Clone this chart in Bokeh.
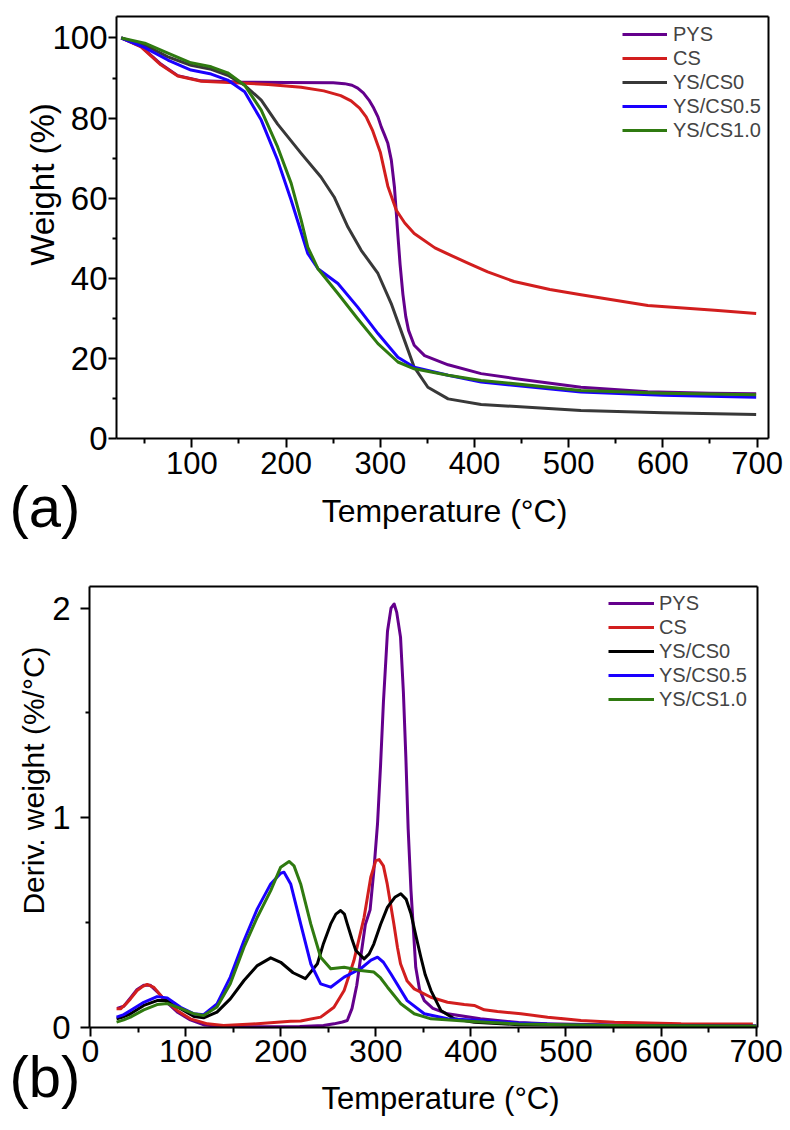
import math
from bokeh.plotting import figure
from bokeh.models import Range1d, FixedTicker, Legend, LegendItem, Label, LinearAxis
from bokeh.layouts import column
from bokeh.embed import file_html
from bokeh.resources import INLINE

FONT = "Liberation Sans"

names = ["PYS", "CS", "YS/CS0", "YS/CS0.5", "YS/CS1.0"]
colors_a = ["#64008c", "#d21e1e", "#383838", "#1a00ff", "#2f7a10"]
colors_b = ["#64008c", "#d21e1e", "#000000", "#1a00ff", "#2f7a10"]

# ---------------- (a) TGA: weight (%) vs temperature (°C) ----------------
pys_a_t = [25, 46, 67, 85, 110, 150, 200, 250, 262, 270, 276, 282, 288, 293, 297.5, 301, 304.5, 308, 311.7, 315, 318.6, 321, 324, 327, 330, 336, 347, 372, 407, 442, 513, 584, 650, 699]
pys_a_w = [100, 97.9, 93.5, 90.6, 89.3, 89.0, 88.9, 88.8, 88.6, 88.2, 87.5, 86.3, 84.5, 82.5, 80.3, 77.8, 75.8, 73.7, 69.5, 62.8, 51.0, 43.5, 36.0, 30.5, 27.0, 23.3, 20.7, 18.4, 16.2, 15.0, 12.8, 11.7, 11.3, 11.2]

cs_a_t = [25, 46, 67, 85, 110, 145, 181, 216, 240, 258, 269, 278, 285, 292, 300, 308, 317, 326, 336, 358, 375, 393, 414, 442, 480, 513, 584, 655, 699]
cs_a_w = [100, 97.8, 93.3, 90.5, 89.2, 88.8, 88.4, 87.7, 86.8, 85.6, 84.3, 82.5, 80.3, 76.8, 71.5, 63.0, 57.0, 53.8, 51.2, 47.6, 45.7, 43.8, 41.6, 39.2, 37.2, 35.9, 33.2, 32.0, 31.2]

ys0_a_t = [25, 50, 74.5, 99, 120.5, 138, 156, 173.6, 191, 216, 237, 251, 265.6, 279.7, 297.5, 311.6, 325.7, 336, 350.5, 372, 407, 513, 600, 699]
ys0_a_w = [100, 98.2, 95.3, 93.2, 92.2, 90.7, 88.2, 84.5, 78.5, 71.2, 65.3, 60.3, 52.8, 47.0, 41.2, 33.7, 24.5, 17.8, 12.8, 9.9, 8.5, 7.0, 6.4, 6.0]

ys05_a_t = [25, 50, 74.5, 99, 120.5, 138, 156, 173.6, 191, 205.4, 216, 223, 233.8, 255, 276, 297.5, 318.7, 336, 372, 407, 513, 600, 699]
ys05_a_w = [100, 97.6, 94.5, 92.0, 91.0, 89.5, 86.6, 79.5, 69.5, 59.5, 51.5, 46.2, 42.4, 38.7, 32.8, 26.2, 20.3, 17.8, 15.8, 14.1, 11.6, 10.8, 10.3]

ys10_a_t = [25, 50, 74.5, 99, 120.5, 138, 156, 173.6, 191, 205.4, 216, 223, 233.8, 255, 276, 297.5, 318.7, 336, 372, 407, 513, 600, 699]
ys10_a_w = [100, 98.7, 96.2, 93.8, 92.8, 91.3, 88.2, 82.0, 72.8, 63.7, 54.5, 47.8, 42.4, 36.2, 29.9, 23.7, 19.1, 17.4, 15.8, 14.5, 12.0, 11.3, 10.9]

# ---------------- (b) DTG: deriv. weight (%/°C) vs temperature (°C) ----------------
pys_b_t = [28, 35, 42, 49, 56, 63, 70, 80, 92, 105, 120, 140, 180, 220, 245, 256, 265, 270, 275, 280, 284, 289, 294, 298, 301.8, 305, 308, 312.3, 316, 319.3, 322, 326, 329, 331.6, 334, 337, 342, 346, 351, 360, 375.5, 410, 450, 480, 550, 700]
pys_b_d = [0.09, 0.1, 0.14, 0.18, 0.2, 0.2, 0.17, 0.12, 0.07, 0.035, 0.01, 0.003, 0.002, 0.003, 0.008, 0.016, 0.025, 0.032, 0.09, 0.2, 0.33, 0.49, 0.56, 0.75, 0.97, 1.25, 1.55, 1.89, 2.0, 2.02, 1.98, 1.862, 1.6, 1.289, 0.95, 0.652, 0.286, 0.18, 0.127, 0.09, 0.064, 0.04, 0.022, 0.016, 0.01, 0.006]

cs_b_t = [27.4, 31.6, 37, 42, 49, 55, 59.6, 66.7, 77, 91, 105, 123, 140, 170, 210.5, 221, 242, 256, 266.7, 277, 287.7, 294.7, 300, 303.5, 308, 312, 319, 322.8, 326, 333, 340.4, 357.9, 375.4, 393, 403.5, 414, 428, 452.6, 480.7, 515.8, 551, 621, 696.5]
cs_b_d = [0.088, 0.088, 0.11, 0.135, 0.175, 0.195, 0.204, 0.19, 0.135, 0.08, 0.04, 0.016, 0.008, 0.015, 0.028, 0.03, 0.048, 0.095, 0.175, 0.318, 0.525, 0.716, 0.795, 0.80, 0.77, 0.684, 0.493, 0.38, 0.303, 0.22, 0.183, 0.143, 0.119, 0.108, 0.104, 0.083, 0.075, 0.064, 0.048, 0.032, 0.024, 0.016, 0.015]

ys0_b_t = [27.4, 35, 42, 56, 70, 80.7, 94.7, 108.8, 119, 133, 147, 161.4, 175.4, 189.5, 200, 213, 226, 238.6, 245, 252.6, 258, 263, 267, 270, 275, 279, 287.7, 293, 298, 305, 312.3, 320, 326.3, 332, 337, 342, 347.4, 352, 358, 368.4, 382.5, 403.5, 450, 550, 700]
ys0_b_d = [0.04, 0.05, 0.064, 0.104, 0.127, 0.127, 0.088, 0.051, 0.045, 0.072, 0.135, 0.223, 0.294, 0.331, 0.31, 0.26, 0.232, 0.303, 0.40, 0.493, 0.54, 0.557, 0.54, 0.493, 0.42, 0.366, 0.326, 0.35, 0.398, 0.49, 0.573, 0.62, 0.637, 0.61, 0.541, 0.44, 0.334, 0.25, 0.175, 0.08, 0.04, 0.024, 0.012, 0.008, 0.005]

ys05_b_t = [27.4, 35, 42, 56, 70, 80.7, 94.7, 108.8, 119, 133, 147, 161.4, 175.4, 189.5, 200, 203.5, 210.5, 221, 231.6, 242, 252.6, 266.7, 284, 295, 301.8, 308, 315.8, 333, 351, 375.5, 410.5, 450, 500, 600, 700]
ys05_b_d = [0.048, 0.06, 0.08, 0.119, 0.146, 0.14, 0.095, 0.064, 0.06, 0.111, 0.239, 0.414, 0.565, 0.684, 0.735, 0.74, 0.684, 0.493, 0.303, 0.207, 0.191, 0.239, 0.279, 0.32, 0.334, 0.31, 0.255, 0.127, 0.064, 0.04, 0.032, 0.02, 0.012, 0.006, 0.004]

ys10_b_t = [27.4, 35, 42, 56, 70, 80.7, 94.7, 108.8, 119, 133, 147, 161.4, 175.4, 189.5, 200, 208.8, 214, 221, 231.6, 242, 252.6, 266.7, 284, 298, 305, 312.3, 326.3, 340.4, 358, 393, 450, 550, 700]
ys10_b_d = [0.024, 0.035, 0.048, 0.083, 0.108, 0.113, 0.09, 0.064, 0.056, 0.096, 0.207, 0.382, 0.525, 0.652, 0.764, 0.791, 0.77, 0.684, 0.493, 0.334, 0.279, 0.286, 0.271, 0.263, 0.235, 0.191, 0.112, 0.064, 0.04, 0.03, 0.015, 0.008, 0.005]

# ticks
a_x_major = [100, 200, 300, 400, 500, 600, 700]
a_x_minor = [50, 150, 250, 350, 450, 550, 650]
a_y_major = [0, 20, 40, 60, 80, 100]
a_y_minor = [10, 30, 50, 70, 90]
b_x_major = [0, 100, 200, 300, 400, 500, 600, 700]
b_x_minor = [50, 150, 250, 350, 450, 550, 650]
b_y_major = [0, 1, 2]
b_y_minor = [0.5, 1.5]

# axis box extents (data units) and whole-canvas ranges
a_box_x, a_box_y = (20, 712), (0, 105.37)
a_view_x, a_view_y = (-103.18, 735.46), (-29.46, 109.36)
b_box_x, b_box_y = (-1.05, 701.05), (0, 2.1014)
b_view_x, b_view_y = (-94.64, 736.07), (-0.4835, 2.2468)

W, HA, HB = 790, 556, 572


def base_figure(h, vx, vy):
    p = figure(width=W, height=h, x_range=Range1d(*vx), y_range=Range1d(*vy),
               x_axis_location=None, y_axis_location=None,
               min_border=0, min_border_left=0, min_border_right=0,
               min_border_top=0, min_border_bottom=0,
               output_backend="svg", toolbar_location=None)
    p.xgrid.visible = False
    p.ygrid.visible = False
    p.outline_line_color = None
    p.background_fill_color = "white"
    p.border_fill_color = "white"
    return p


def style_axis(ax, tick_px, tick_out, minor_out, standoff):
    ax.axis_line_width = 2
    ax.axis_line_color = "black"
    ax.major_tick_line_width = 2
    ax.minor_tick_line_width = 2
    ax.major_tick_line_color = "black"
    ax.minor_tick_line_color = "black"
    ax.major_tick_out = tick_out
    ax.major_tick_in = 0
    ax.minor_tick_out = minor_out
    ax.minor_tick_in = 0
    ax.major_label_text_font = FONT
    ax.major_label_text_font_size = tick_px
    ax.major_label_text_color = "black"
    ax.major_label_standoff = standoff


def add_axes(p, bx, by, xt, xm, yt, ym, xtick_px, ytick_px, x_std, y_std, y_out):
    xa = LinearAxis(fixed_location=by[0], bounds=bx, ticker=FixedTicker(ticks=xt, minor_ticks=xm))
    ya = LinearAxis(fixed_location=bx[0], bounds=by, ticker=FixedTicker(ticks=yt, minor_ticks=ym))
    ta = LinearAxis(fixed_location=by[1], bounds=bx, ticker=FixedTicker(ticks=[]))
    ra = LinearAxis(fixed_location=bx[1], bounds=by, ticker=FixedTicker(ticks=[]))
    style_axis(xa, xtick_px, 9, 5, x_std)
    style_axis(ya, ytick_px, y_out, 4, y_std)
    style_axis(ta, xtick_px, 0, 0, 0)
    style_axis(ra, ytick_px, 0, 0, 0)
    p.add_layout(xa, "below")
    p.add_layout(ya, "left")
    p.add_layout(ta, "above")
    p.add_layout(ra, "right")


def add_text(p, x, y, text, size, angle=0.0, align="left"):
    p.add_layout(Label(x=x, y=y, x_units="screen", y_units="screen", text=text,
                       angle=angle, text_font=FONT, text_font_size=size,
                       text_align=align, text_baseline="alphabetic",
                       text_color="black"))


def add_legend(p, renderers, loc, gw, std):
    items = [LegendItem(label=n, renderers=[r]) for n, r in zip(names, renderers)]
    leg = Legend(items=items, location=loc, orientation="vertical",
                 border_line_alpha=0, background_fill_alpha=0,
                 padding=0, margin=0, spacing=0,
                 glyph_width=gw, glyph_height=24, label_height=24,
                 label_standoff=std, label_text_font=FONT,
                 label_text_font_size="20px")
    p.add_layout(leg)


# ---------------- figure (a) ----------------
pa = base_figure(HA, a_view_x, a_view_y)
add_axes(pa, a_box_x, a_box_y, a_x_major, a_x_minor, a_y_major, a_y_minor,
         "31px", "33px", 4, 1, 8)
ra = []
for (t, w), c in zip([(pys_a_t, pys_a_w), (cs_a_t, cs_a_w), (ys0_a_t, ys0_a_w),
                      (ys05_a_t, ys05_a_w), (ys10_a_t, ys10_a_w)], colors_a):
    ra.append(pa.line(t, w, line_color=c, line_width=3, line_join="round"))
add_legend(pa, ra, (622, 414), 45, 6)
add_text(pa, 444, 46, "Temperature (°C)", "32px", align="center")
add_text(pa, 42, 372, "Weight (%)", "33px", angle=math.pi / 2, align="center")
add_text(pa, 9, 50, "(a)", "58px")

# ---------------- figure (b) ----------------
pb = base_figure(HB, b_view_x, b_view_y)
add_axes(pb, b_box_x, b_box_y, b_x_major, b_x_minor, b_y_major, b_y_minor,
         "32px", "33px", 4, 10, 9)
rb = []
for (t, d), c in zip([(pys_b_t, pys_b_d), (cs_b_t, cs_b_d), (ys0_b_t, ys0_b_d),
                      (ys05_b_t, ys05_b_d), (ys10_b_t, ys10_b_d)], colors_b):
    rb.append(pb.line(t, d, line_color=c, line_width=3, line_join="round"))
add_legend(pb, rb, (608, 417), 46, 5)
add_text(pb, 440, 30, "Temperature (°C)", "31px", align="center")
add_text(pb, 33, 348, "Deriv. weight (%/°C)", "30px", angle=math.pi / 2, align="center")
add_text(pb, 9, 52, "(b)", "58px")

layout = column(pa, pb)
open("out.html", "w").write(file_html(layout, INLINE))
